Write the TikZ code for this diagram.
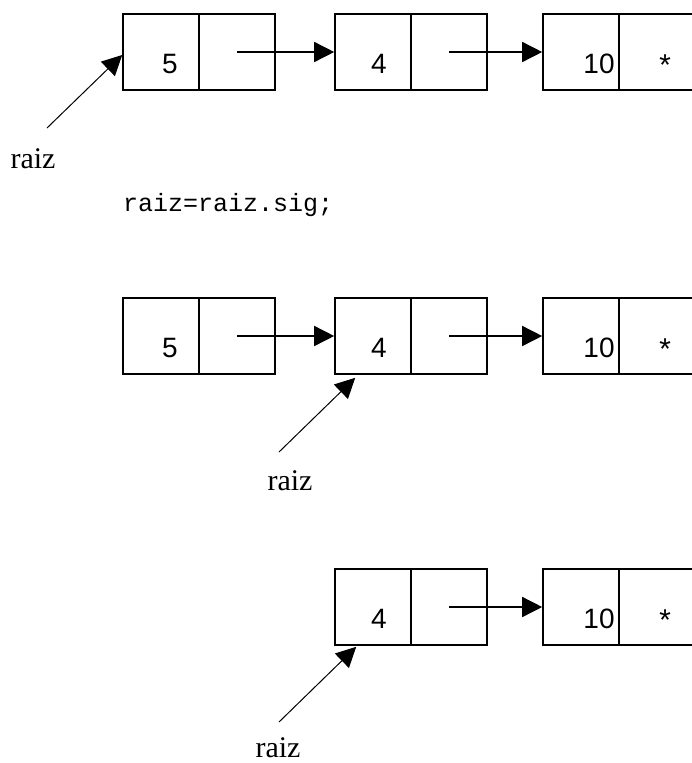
\documentclass[tikz,border=0pt]{standalone}
\usepackage{fontspec}
\setmainfont{Liberation Serif}
\newfontfamily\numfont{Liberation Sans}
\newfontfamily\codefont{Liberation Mono}
\usetikzlibrary{arrows.meta}

\tikzset{
  cell/.style={draw, line width=1.6pt, minimum width=76pt, minimum height=76pt, inner sep=0pt},
  val/.style={anchor=base, inner sep=0pt, font=\numfont\fontsize{28}{32}\selectfont},
  lbl/.style={anchor=base, inner sep=0pt, font=\fontsize{30}{36}\selectfont},
  ptr/.style={line width=1.5pt, -{Triangle[length=20pt,width=20pt]}},
  rptr/.style={line width=1pt, -{Triangle[length=20pt,width=20pt]}}
}

\begin{document}
\begin{tikzpicture}[x=1pt,y=-1pt]
\useasboundingbox (0,0) rectangle (691,763);
% nodes 4 and 10, present in every row
\foreach \r/\y in {1/52,2/336,3/607} {
  \node[cell] (c\r) at (373,\y) {};
  \node[cell] (d\r) at (449,\y) {};
  \node[cell] (e\r) at (581,\y) {};
  \node[cell] (f\r) at (657,\y) {};
  \node[val] (vc\r) at (379,\y+21) {4};
  \node[val] (ve\r) at (599,\y+21) {10};
  \node[val, anchor=center, font=\codefont\fontsize{30}{36}\selectfont] (vf\r) at (665,\y+14) {*};
  \draw[ptr] (d\r.center) -- (e\r.west);
}
% node 5, rows 1 and 2
\foreach \r/\y in {1/52,2/336} {
  \node[cell] (a\r) at (161,\y) {};
  \node[cell] (b\r) at (237,\y) {};
  \node[val] (va\r) at (170,\y+21) {5};
  \draw[ptr] (b\r.center) -- (c\r.west);
}
% root pointers
\node[lbl] (r1) at (33,168) {raiz};
\coordinate (t1) at (47,128);
\draw[rptr] (t1) -- ([yshift=-3pt]a1.west);
\node[font=\codefont\fontsize{25}{30}\selectfont, anchor=base west, inner sep=0pt] (code) at (123,211) {raiz=raiz.sig;};
\node[lbl] (r2) at (290,490) {raiz};
\coordinate (t2) at (279,452);
\draw[rptr] (t2) -- ([xshift=21pt,yshift=-3pt]c2.south west);
\node[lbl] (r3) at (278,757) {raiz};
\coordinate (t3) at (279,722);
\draw[rptr] (t3) -- ([xshift=22pt,yshift=-1pt]c3.south west);
\end{tikzpicture}
\end{document}
